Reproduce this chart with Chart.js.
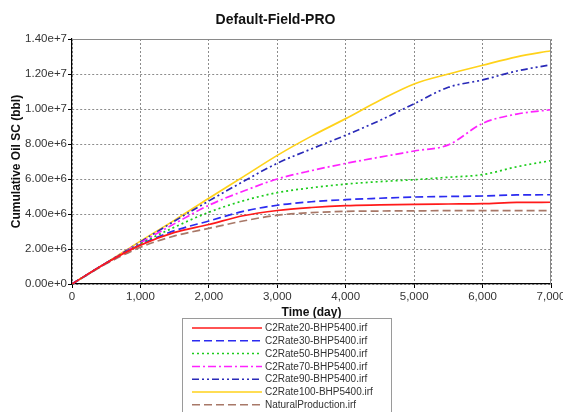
<!DOCTYPE html>
<html>
<head>
<meta charset="utf-8">
<script src="https://cdn.jsdelivr.net/npm/chart.js@4.4.1/dist/chart.umd.min.js"></script>
<style>
  body { margin: 0; background: #fff; }
  #wrap { width: 563px; height: 412px; }
</style>
</head>
<body>
<div id="wrap"><canvas id="myChart"></canvas></div>
<script>
	// days on the x axis
	var days = [0, 500, 1000, 1500, 2000, 2500, 3000, 3500, 4000, 4500, 5000, 5500, 6000, 6500, 7000];

	// cumulative oil, in millions of bbl
	var rate20  = [0, 1.2, 2.22, 2.95, 3.4, 3.9, 4.2, 4.37, 4.48, 4.52, 4.55, 4.57, 4.59, 4.66, 4.67];
	var rate30  = [0, 1.2, 2.25, 3.05, 3.6, 4.15, 4.5, 4.7, 4.82, 4.9, 4.97, 5.0, 5.03, 5.09, 5.1];
	var rate50  = [0, 1.2, 2.3, 3.25, 4.1, 4.75, 5.22, 5.5, 5.71, 5.85, 5.96, 6.1, 6.25, 6.7, 7.05];
	var rate70  = [0, 1.2, 2.35, 3.45, 4.5, 5.3, 6.0, 6.48, 6.89, 7.25, 7.6, 7.95, 9.18, 9.71, 9.96];
	var rate90  = [0, 1.2, 2.4, 3.6, 4.75, 5.85, 6.9, 7.72, 8.5, 9.35, 10.3, 11.24, 11.66, 12.17, 12.53];
	var rate100 = [0, 1.2, 2.45, 3.65, 4.9, 6.12, 7.35, 8.45, 9.45, 10.5, 11.43, 12.0, 12.5, 12.98, 13.33];
	var natural = [0, 1.15, 2.1, 2.75, 3.18, 3.6, 3.93, 4.08, 4.15, 4.17, 4.18, 4.19, 4.19, 4.19, 4.19];

	var seriesNames = ["C2Rate20-BHP5400.irf", "C2Rate30-BHP5400.irf", "C2Rate50-BHP5400.irf",
		"C2Rate70-BHP5400.irf", "C2Rate90-BHP5400.irf", "C2Rate100-BHP5400.irf", "NaturalProduction.irf"];
	var seriesValues = [rate20, rate30, rate50, rate70, rate90, rate100, natural];

	var yTicks = [0, 2e6, 4e6, 6e6, 8e6, 1e7, 1.2e7, 1.4e7];
	var xTicks = [0, 1000, 2000, 3000, 4000, 5000, 6000, 7000];

	var styles = [
		{ color: "#ff1a1a", dash: [] },
		{ color: "#2b2bf0", dash: [8, 4] },
		{ color: "#1ccc1c", dash: [2, 3] },
		{ color: "#ff22ff", dash: [8, 3, 2, 3] },
		{ color: "#2a2ab8", dash: [7, 3, 2, 3, 2, 3] },
		{ color: "#ffd21a", dash: [] },
		{ color: "#a87868", dash: [8, 4] }
	];

	var fontFamily = '"Liberation Sans", Arial, sans-serif';

	function toPoints(vals) {
		var pts = [];
		for (var i = 0; i < days.length; i++) {
			pts.push({ x: days[i], y: vals[i] * 1e6 });
		}
		return pts;
	}

	var datasets = [];
	for (var s = 0; s < seriesNames.length; s++) {
		datasets.push({
			label: seriesNames[s],
			data: toPoints(seriesValues[s]),
			borderColor: styles[s].color,
			backgroundColor: styles[s].color,
			borderDash: styles[s].dash,
			borderWidth: 1.7,
			pointRadius: 0,
			cubicInterpolationMode: 'monotone',
			fill: false
		});
	}

	// box round the plot (top and right) plus the legend under the axis
	var framePlugin = {
		id: 'frameAndLegend',
		afterDatasetsDraw: function(chart) {
			var ctx = chart.ctx, a = chart.chartArea;
			ctx.save();
			ctx.strokeStyle = '#8a8a8a';
			ctx.lineWidth = 1;
			ctx.setLineDash([]);
			ctx.beginPath();
			ctx.moveTo(a.left, a.top + 0.5);
			ctx.lineTo(a.right - 0.5, a.top + 0.5);
			ctx.lineTo(a.right - 0.5, a.bottom);
			ctx.stroke();
			ctx.restore();
		},
		afterDraw: function(chart) {
			var ctx = chart.ctx;
			var bx = 182.5, by = 318.5, bw = 209, bh = 100;
			ctx.save();
			ctx.fillStyle = '#fff';
			ctx.fillRect(bx, by, bw, bh);
			ctx.strokeStyle = '#9a9a9a';
			ctx.lineWidth = 1;
			ctx.strokeRect(bx, by, bw, bh);
			ctx.font = '10px ' + fontFamily;
			ctx.textBaseline = 'middle';
			chart.data.datasets.forEach(function(ds, i) {
				var ly = 328 + i * 12.8;
				ctx.strokeStyle = ds.borderColor;
				ctx.lineWidth = 1.5;
				ctx.setLineDash(ds.borderDash);
				ctx.beginPath();
				ctx.moveTo(192, ly);
				ctx.lineTo(262, ly);
				ctx.stroke();
				ctx.fillStyle = '#333';
				ctx.fillText(ds.label, 265, ly + 0.5);
			});
			ctx.restore();
		}
	};

	var ctx = document.getElementById("myChart").getContext('2d');
	var myChart = new Chart(ctx, {
		type: 'line',
		data: { datasets: datasets },
		plugins: [framePlugin],
		options: {
			responsive: true,
			maintainAspectRatio: false,
			animation: false,
			layout: { padding: { left: 0, right: 12, top: 0, bottom: 92 } },
			plugins: {
				legend: { display: false },
				tooltip: { enabled: false },
				title: {
					display: true,
					text: 'Default-Field-PRO',
					color: '#111',
					font: { family: fontFamily, size: 14, weight: 'bold' },
					padding: { top: 11.6, bottom: 10.6 }
				}
			},
			scales: {
				x: {
					type: 'linear',
					min: 0,
					max: 7000,
					afterBuildTicks: function(scale) {
						scale.ticks = xTicks.map(function(v) { return { value: v }; });
					},
					afterFit: function(scale) {
						scale.height = 36;
						scale.paddingLeft = 0;
						scale.paddingRight = 0;
					},
					ticks: {
						maxRotation: 0,
						padding: 2,
						color: '#333',
						font: { family: fontFamily, size: 11.5 },
						callback: function(v) { return v.toLocaleString('en-US'); }
					},
					grid: {
						color: '#8c8c8c',
						tickLength: 4,
						tickColor: '#000',
						tickBorderDash: []
					},
					border: { display: true, color: '#000', width: 1.2, dash: [2, 2] },
					title: {
						display: true,
						text: 'Time (day)',
						color: '#111',
						font: { family: fontFamily, size: 12, weight: 'bold' },
						padding: { top: 0, bottom: 0 }
					}
				},
				y: {
					min: 0,
					max: 1.4e7,
					afterBuildTicks: function(scale) {
						scale.ticks = yTicks.map(function(v) { return { value: v }; });
					},
					afterFit: function(scale) {
						scale.width = 72;
						scale.paddingTop = 0;
						scale.paddingBottom = 0;
					},
					ticks: {
						padding: 1,
						color: '#333',
						font: { family: fontFamily, size: 11.5 },
						callback: function(v) {
							return Number(v).toExponential(2);
						}
					},
					grid: {
						color: '#8c8c8c',
						tickLength: 4,
						tickColor: '#000',
						tickBorderDash: []
					},
					border: { display: true, color: '#000', width: 1.2, dash: [2, 2] },
					title: {
						display: true,
						text: 'Cumulative Oil SC (bbl)',
						color: '#111',
						font: { family: fontFamily, size: 12, weight: 'bold' },
						padding: { top: 9, bottom: 0 }
					}
				}
			}
		}
	});
</script>
</body>
</html>
